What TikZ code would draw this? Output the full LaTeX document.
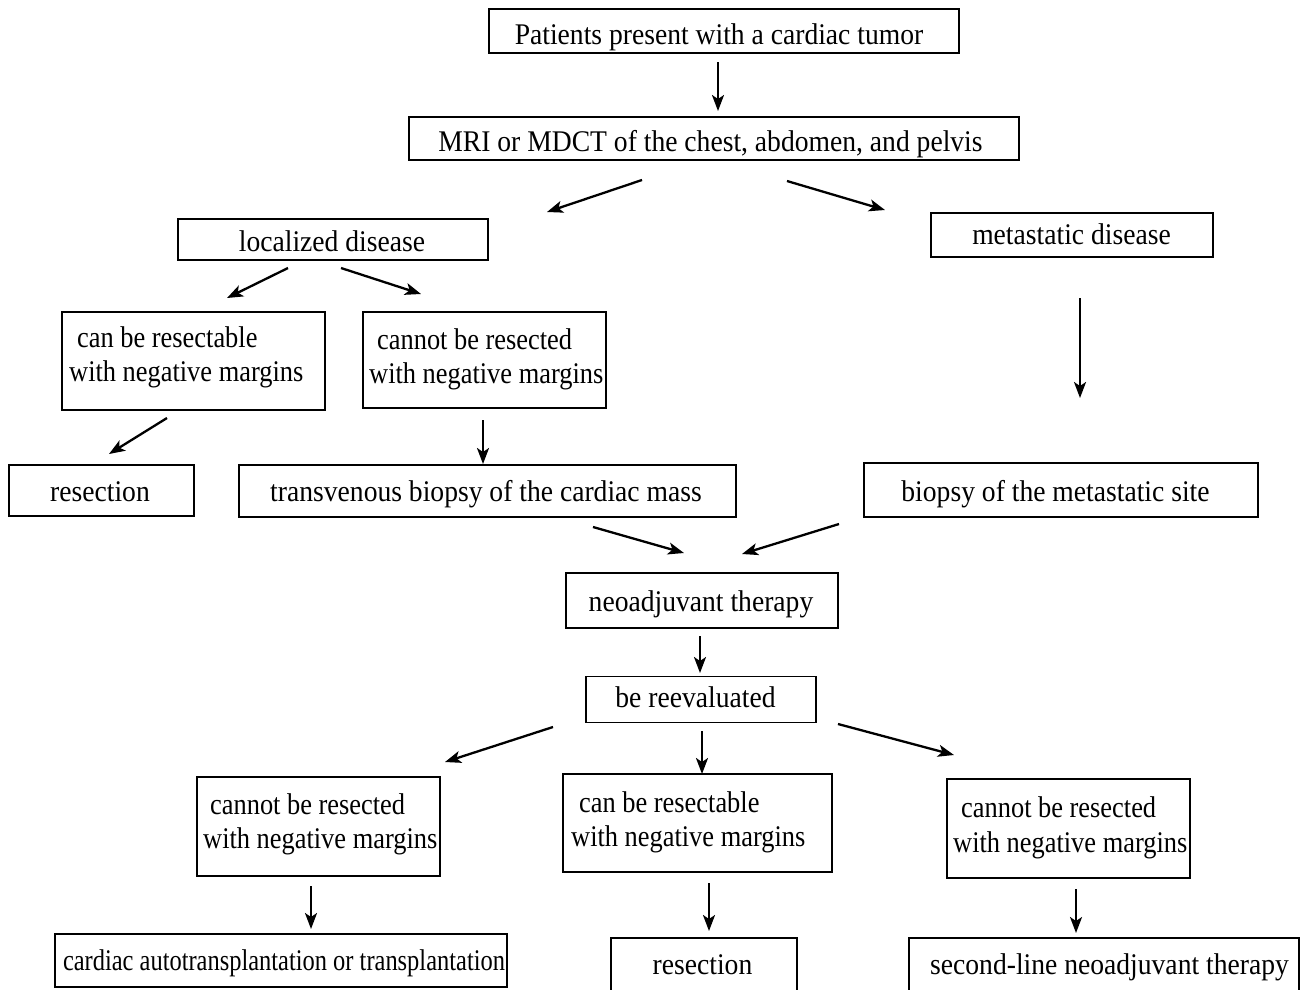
\documentclass[tikz,border=0pt]{standalone}
\usepackage{fontspec}
\setmainfont[FakeStretch=0.92]{Liberation Serif}
\newfontfamily\twolinefont[FakeStretch=0.88]{Liberation Serif}
\newfontfamily\narrowfont[FakeStretch=0.815]{Liberation Serif}
\usetikzlibrary{arrows.meta}
\tikzset{
  box/.style={draw, line width=1.7pt, inner sep=0pt},
  ctxt/.style={inner sep=0pt, anchor=base, font=\fontsize{30}{34}\selectfont},
  ltxt/.style={inner sep=0pt, anchor=base west, font=\twolinefont\fontsize{30}{34}\selectfont},
  arr/.style={-{Stealth[length=16pt,width=12pt,inset=4pt]}, line width=2.3pt}
}
\begin{document}
\begin{tikzpicture}[x=1pt,y=-1pt]
\useasboundingbox (0,0) rectangle (1309,989);
% boxes
\node[box, minimum width=470pt, minimum height=44pt] (n1) at (724,31) {};
\node[ctxt] (t1) at (719,44) {Patients present with a cardiac tumor};
\node[box, minimum width=610pt, minimum height=43pt] (n2) at (714,138.5) {};
\node[ctxt] (t2) at (710.5,151) {MRI or MDCT of the chest, abdomen, and pelvis};
\node[box, minimum width=310pt, minimum height=41pt] (n3) at (333,239.5) {};
\node[ctxt] (t3) at (332,251) {localized disease};
\node[box, minimum width=282pt, minimum height=44pt] (n4) at (1072,235) {};
\node[ctxt] (t4) at (1071.5,244) {metastatic disease};
\node[box, minimum width=263pt, minimum height=98pt] (n5) at (193.5,361) {};
\node[ltxt] (t5a) at (77,347) {can be resectable};
\node[ltxt] (t5b) at (69,381) {with negative margins};
\node[box, minimum width=243pt, minimum height=96pt] (n6) at (484.5,360) {};
\node[ltxt] (t6a) at (377,349) {cannot be resected};
\node[ltxt] (t6b) at (369,383) {with negative margins};
\node[box, minimum width=185pt, minimum height=51pt] (n7) at (101.5,490.5) {};
\node[ctxt] (t7) at (100,501) {resection};
\node[box, minimum width=497pt, minimum height=52pt] (n8) at (487.5,491) {};
\node[ctxt] (t8) at (486,501) {transvenous biopsy of the cardiac mass};
\node[box, minimum width=394pt, minimum height=54pt] (n9) at (1061,490) {};
\node[ctxt] (t9) at (1055.5,501) {biopsy of the metastatic site};
\node[box, minimum width=272pt, minimum height=55pt] (n10) at (702,600.5) {};
\node[ctxt] (t10) at (701,611) {neoadjuvant therapy};
\node[box, minimum width=230pt, minimum height=46pt] (n11) at (701,699.5) {};
\node[ctxt] (t11) at (695.5,707) {be reevaluated};
\node[box, minimum width=243pt, minimum height=99pt] (n12) at (318.5,826.5) {};
\node[ltxt] (t12a) at (210,814) {cannot be resected};
\node[ltxt] (t12b) at (203,848) {with negative margins};
\node[box, minimum width=269pt, minimum height=98pt] (n13) at (697.5,823) {};
\node[ltxt] (t13a) at (579,812) {can be resectable};
\node[ltxt] (t13b) at (571,846) {with negative margins};
\node[box, minimum width=243pt, minimum height=99pt] (n14) at (1068.5,828.5) {};
\node[ltxt] (t14a) at (961,817) {cannot be resected};
\node[ltxt] (t14b) at (953,852) {with negative margins};
\node[box, minimum width=452pt, minimum height=53pt] (n15) at (281,960.5) {};
\node[ctxt, font=\narrowfont\fontsize{30}{34}\selectfont] (t15) at (284,970) {cardiac autotransplantation or transplantation};
\node[box, minimum width=186pt, minimum height=60pt] (n16) at (704,968) {};
\node[ctxt] (t16) at (702.5,974) {resection};
\node[box, minimum width=390pt, minimum height=60pt] (n17) at (1104,968) {};
\node[ctxt] (t17) at (1109.5,974) {second-line neoadjuvant therapy};
% arrow end points
\coordinate (a1s) at (718,62);   \coordinate (a1e) at (718,111);
\coordinate (a2s) at (642,180);  \coordinate (a2e) at (547,212);
\coordinate (a3s) at (787,181);  \coordinate (a3e) at (885,210);
\coordinate (a4s) at (288,268);  \coordinate (a4e) at (227,298);
\coordinate (a5s) at (341,268);  \coordinate (a5e) at (421,294);
\coordinate (a6s) at (1080,298); \coordinate (a6e) at (1080,398);
\coordinate (a7s) at (167,418);  \coordinate (a7e) at (109,454);
\coordinate (a8s) at (483,420);  \coordinate (a8e) at (483,464);
\coordinate (a9s) at (593,527);  \coordinate (a9e) at (684,553);
\coordinate (a10s) at (839,524); \coordinate (a10e) at (742,554);
\coordinate (a11s) at (700,636); \coordinate (a11e) at (700,673);
\coordinate (a12s) at (553,727); \coordinate (a12e) at (445,762);
\coordinate (a13s) at (702,731); \coordinate (a13e) at (702,774);
\coordinate (a14s) at (838,724); \coordinate (a14e) at (954,755);
\coordinate (a15s) at (311,886); \coordinate (a15e) at (311,929);
\coordinate (a16s) at (709,883); \coordinate (a16e) at (709,931);
\coordinate (a17s) at (1076,889); \coordinate (a17e) at (1076,933);
\foreach \i in {1,...,17} { \draw[arr] (a\i s) -- (a\i e); }
\end{tikzpicture}
\end{document}
